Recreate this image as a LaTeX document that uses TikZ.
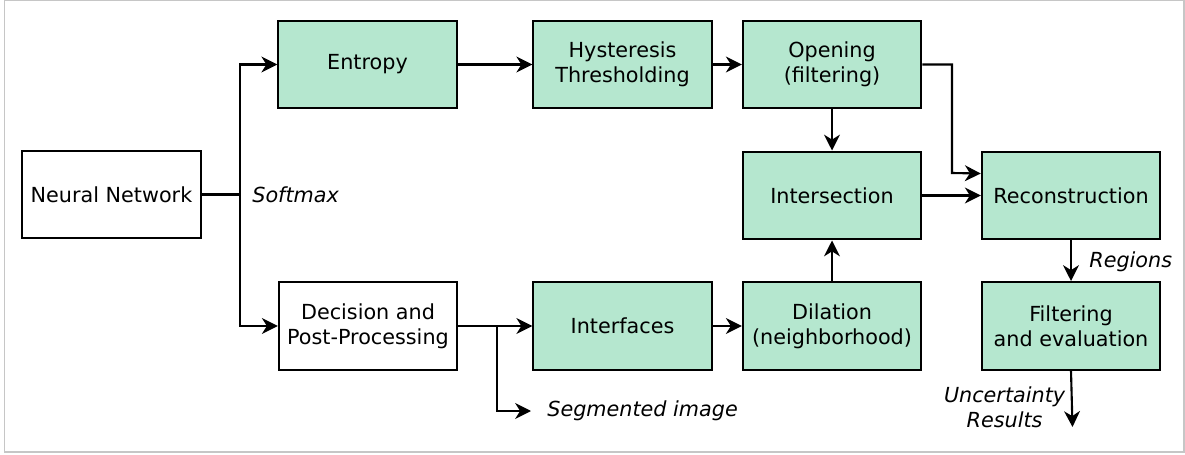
\documentclass[tikz,border=0pt]{standalone}
\usepackage{fontspec}
\setmainfont{DejaVu Sans}
\usepackage{xcolor}
\usepackage{tikz}
\usetikzlibrary{arrows.meta}
\definecolor{boxgreen}{RGB}{181,231,207}
\newcommand{\figfont}{\fontsize{11.8}{14.2}\selectfont}

\begin{document}
\begin{tikzpicture}[x=2cm,y=2cm,
  box/.style={draw,line width=1.2pt,minimum width=101.5pt,minimum height=50pt,align=center,inner sep=2pt,font=\figfont},
  gbox/.style={box,fill=boxgreen},
  wire/.style={line width=1.2pt,-{Stealth[length=9pt,width=9pt,inset=2.8pt]}},
  lab/.style={font=\figfont\itshape,inner sep=0pt}]
\useasboundingbox (0,0) rectangle (11.85,-4.55);
\draw[gray!45,line width=0.6pt] (0.045,-0.005) rectangle (11.84,-4.52);
%%
\node[box] (nn) at (1.115,-1.945) {Neural Network};
\coordinate (sm) at (2.40,-1.945);
\node[lab,right] (softmax) at (2.52,-1.945) {Softmax};
%%
\node[gbox] (entropy) at (3.675,-0.645) {Entropy};
\node[gbox] (hyst) at (6.225,-0.645) {Hysteresis\\Thresholding};
\node[gbox] (opening) at (8.32,-0.645) {Opening\\(filtering)};
%%
\node[gbox] (inter) at (8.32,-1.955) {Intersection};
\node[gbox] (recon) at (10.71,-1.955) {Reconstruction};
%%
\node[box] (decision) at (3.68,-3.26) {Decision and\\Post-Processing};
\node[gbox] (interf) at (6.225,-3.26) {Interfaces};
\node[gbox] (dilation) at (8.32,-3.26) {Dilation\\(neighborhood)};
\node[gbox] (filt) at (10.71,-3.26) {Filtering\\and evaluation};
%%
\node[lab,right] (regions) at (10.89,-2.62) {Regions};
\coordinate (out) at (10.725,-4.27);
\node[lab,left,align=center] (unc) at (10.655,-4.07) {Uncertainty\\Results};
\coordinate (branch) at (4.97,-3.26);
\coordinate (segend) at (5.31,-4.11);
\node[lab,right] (seg) at (5.47,-4.11) {Segmented image};
%%
\draw[line width=1.2pt] (nn.east) -- (sm);
\draw[wire] (sm) |- (entropy.west);
\draw[wire] (sm) |- (decision.west);
\draw[wire] (entropy) -- (hyst);
\draw[wire] (hyst) -- (opening);
\draw[wire] (opening) -- (inter);
\draw[wire] (dilation) -- (inter);
\draw[wire] (opening.east) -| (9.52,-1.73) -- ([yshift=12.5pt]recon.west);
\draw[wire] (inter) -- (recon);
\draw[wire] (recon) -- (filt);
\draw[wire] (filt.south) -- (out);
%%
\draw[wire] (decision) -- (interf);
\draw[wire] (interf) -- (dilation);
\draw[wire] (branch) |- (segend);
\end{tikzpicture}
\end{document}
